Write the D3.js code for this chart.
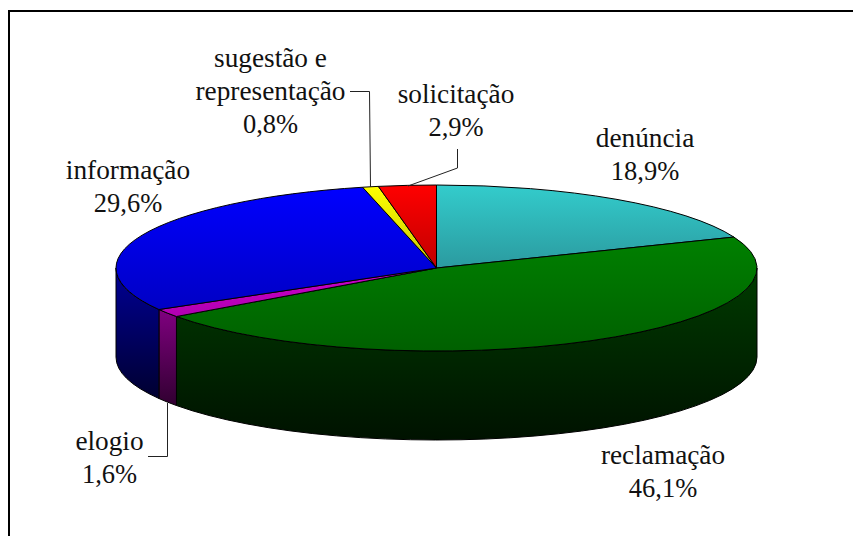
<!DOCTYPE html>
<html><head><meta charset="utf-8">
<script src="https://cdn.jsdelivr.net/npm/d3@7/dist/d3.min.js"></script>
<style>html,body{margin:0;padding:0;background:#fff}svg{display:block}text{font-family:"Liberation Serif",serif;font-size:27.3px;fill:#111}tspan.v{font-size:26.5px}</style>
</head><body><svg id="c" width="853" height="536"></svg>
<script>
const categories=["denúncia","reclamação","elogio","informação","sugestão e representação","solicitação"];
const values=[18.9,46.1,1.6,29.6,0.8,2.9];
const valueLabels=["18,9%","46,1%","1,6%","29,6%","0,8%","2,9%"];
const labelLines=[["denúncia"],["reclamação"],["elogio"],["informação"],["sugestão e","representação"],["solicitação"]];
const topColors=[["#33cccc","#2b9a9f"],["#008000","#006000"],["#cc00cc","#b000b0"],["#0000ff","#0000c4"],["#ffff00","#c8c800"],["#ff0000","#c00000"]];
const sideColors=[["#1a6666","#0a3030"],["#003b00","#001200"],["#800080","#300030"],["#000096","#000030"],["#808000","#303000"],["#800000","#300000"]];
const labelAnchors=[[645,147],[663,464],[109.5,450],[128,178.5],[270.5,66.5],[456,103]];
const leaders=[null,null,[[167.5,403],[167.5,456.5],[148,456.5]],null,[[350,91.5],[369.5,91.5],[370.5,187]],[[457.5,149],[457.5,168],[408,186]]];

const cx=436.5,cy=268,rx=320.5,ry=83,depth=89,lineGap=33.3;
const svg=d3.select("#c");
const defs=svg.append("defs");
const pie=d3.pie().sort(null).value(d=>d)(values);
const pt=(t,dy=0)=>[cx+rx*Math.sin(t),cy-ry*Math.cos(t)+dy];
function grad(id,c){
  const g=defs.append("linearGradient").attr("id",id).attr("x1",0).attr("y1",0).attr("x2",0).attr("y2",1);
  g.append("stop").attr("offset",0).attr("stop-color",c[0]);
  g.append("stop").attr("offset",1).attr("stop-color",c[1]);
}
topColors.forEach((c,i)=>grad("t"+i,c));
sideColors.forEach((c,i)=>grad("s"+i,c));

svg.append("path").attr("d","M9 536V11H853").attr("fill","none").attr("stroke","#000").attr("stroke-width",2);

function sidePath(a0,a1){
  const p0=pt(a0),p1=pt(a1),q0=pt(a0,depth),q1=pt(a1,depth);
  return `M${p0}A${rx} ${ry} 0 0 1 ${p1}L${q1}A${rx} ${ry} 0 0 0 ${q0}Z`;
}
const lo=Math.PI/2,hi=3*Math.PI/2;
pie.forEach((s,i)=>{
  const a0=Math.max(s.startAngle,lo),a1=Math.min(s.endAngle,hi);
  if(a1>a0) svg.append("path").attr("d",sidePath(a0,a1)).attr("fill",`url(#s${i})`).attr("stroke","#000").attr("stroke-width",1).attr("stroke-linejoin","round");
});
pie.forEach((s,i)=>{
  const p0=pt(s.startAngle),p1=pt(s.endAngle),large=s.endAngle-s.startAngle>Math.PI?1:0;
  svg.append("path").attr("d",`M${cx} ${cy}L${p0}A${rx} ${ry} 0 ${large} 1 ${p1}Z`)
    .attr("fill",`url(#t${i})`).attr("stroke","#000").attr("stroke-width",1).attr("stroke-linejoin","round");
});
const line=d3.line();
leaders.forEach(l=>{ if(l) svg.append("path").attr("d",line(l)).attr("fill","none").attr("stroke","#222").attr("stroke-width",1); });
categories.forEach((c,i)=>{
  const t=svg.append("text").attr("text-anchor","middle");
  const n=labelLines[i].length;
  labelLines[i].concat(valueLabels[i]).forEach((s,j)=>{
    t.append("tspan").attr("class",j===n?"v":null).attr("x",labelAnchors[i][0]).attr("y",labelAnchors[i][1]+j*lineGap).text(s);
  });
});
</script></body></html>
